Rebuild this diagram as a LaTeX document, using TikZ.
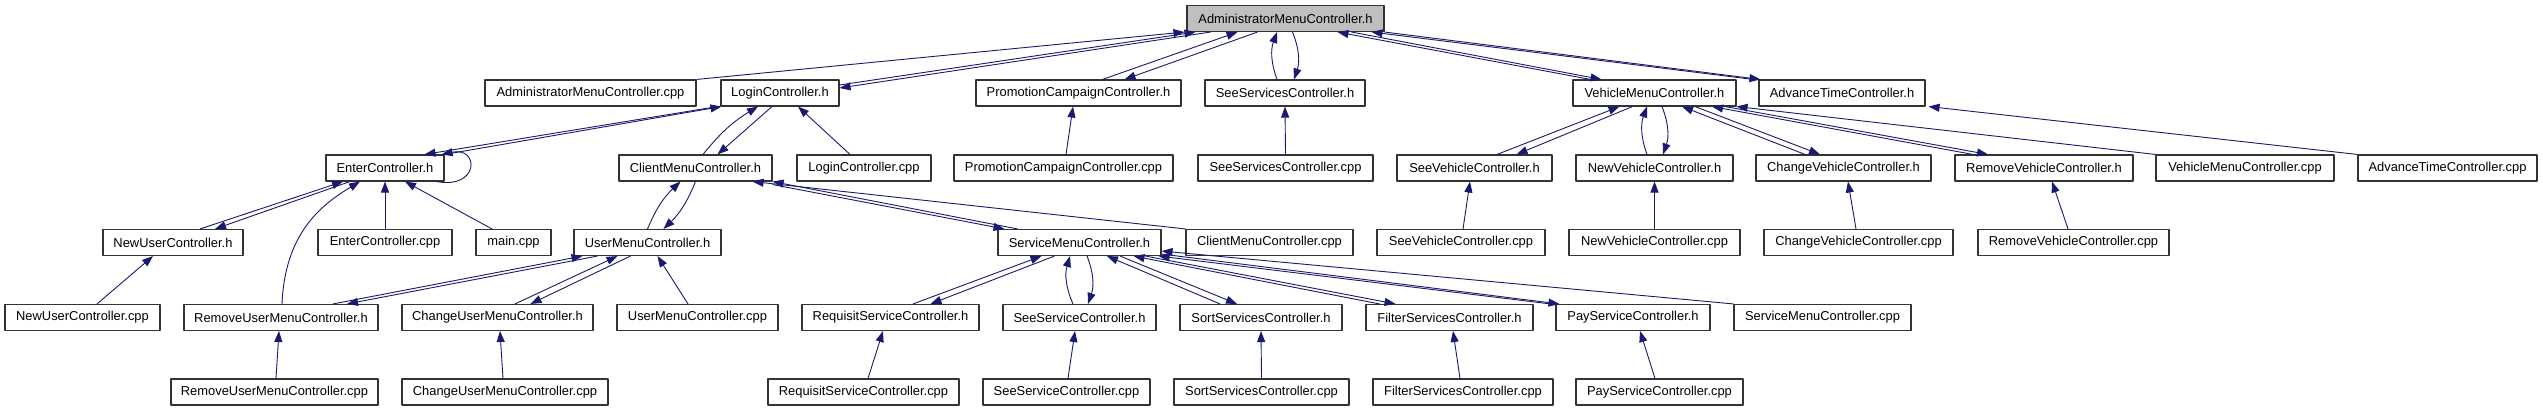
\documentclass[tikz,border=0pt]{standalone}
\usepackage{fontspec}
\setmainfont{Liberation Sans}
\usepackage{tikz}
\usetikzlibrary{arrows.meta}
\definecolor{edgeblue}{HTML}{191970}
\definecolor{boxline}{HTML}{333333}
\definecolor{curgray}{HTML}{BFBFBF}
\tikzset{
    every picture/.style={line join=round},
    filenode/.style={draw=boxline,fill=white,line width=1.1pt,
      minimum height=26pt,inner sep=0pt,font=\fontsize{12.9}{14}\selectfont},
    curfile/.style={filenode,fill=curgray},
    dep/.style={-{Triangle[length=11pt,width=8pt]},draw=edgeblue,line width=0.9pt}
}

\begin{document}
\begin{tikzpicture}[x=1pt,y=-1pt]
  \useasboundingbox[fill=white] (0,0) rectangle (2543,411);
  % row 0
  \node[curfile,minimum width=197pt] (admh) at (1285.5,18.5) {AdministratorMenuController.h};
  % row 1
  \node[filenode,minimum width=211pt] (admcpp) at (590.5,93) {AdministratorMenuController.cpp};
  \node[filenode,minimum width=118pt] (loginh) at (780,93) {LoginController.h};
  \node[filenode,minimum width=205pt] (promoh) at (1078.5,93) {PromotionCampaignController.h};
  \node[filenode,minimum width=160pt] (seesvsh) at (1285,93) {SeeServicesController.h};
  \node[filenode,minimum width=163pt] (vehh) at (1654.5,93) {VehicleMenuController.h};
  \node[filenode,minimum width=166pt] (advh) at (1842,93) {AdvanceTimeController.h};
  % row 2
  \node[filenode,minimum width=118pt] (enterh) at (385,168) {EnterController.h};
  \node[filenode,minimum width=153pt] (clienth) at (695.5,168) {ClientMenuController.h};
  \node[filenode,minimum width=134pt] (logincpp) at (864,168) {LoginController.cpp};
  \node[filenode,minimum width=219pt] (promocpp) at (1063.5,168) {PromotionCampaignController.cpp};
  \node[filenode,minimum width=175pt] (seesvscpp) at (1285.5,168) {SeeServicesController.cpp};
  \node[filenode,minimum width=155pt] (seevh) at (1474.5,168) {SeeVehicleController.h};
  \node[filenode,minimum width=157pt] (newvh) at (1654.5,168) {NewVehicleController.h};
  \node[filenode,minimum width=175pt] (chgvh) at (1843.5,168) {ChangeVehicleController.h};
  \node[filenode,minimum width=178pt] (remvh) at (2044,168) {RemoveVehicleController.h};
  \node[filenode,minimum width=178pt] (vehcpp) at (2245,168) {VehicleMenuController.cpp};
  \node[filenode,minimum width=179pt] (advcpp) at (2447.5,168) {AdvanceTimeController.cpp};
  % row 3
  \node[filenode,minimum width=140pt] (newuh) at (173,242.5) {NewUserController.h};
  \node[filenode,minimum width=134pt] (entercpp) at (385,242.5) {EnterController.cpp};
  \node[filenode,minimum width=75pt] (maincpp) at (513.5,242.5) {main.cpp};
  \node[filenode,minimum width=147pt] (userh) at (647.5,242.5) {UserMenuController.h};
  \node[filenode,minimum width=163pt] (svch) at (1079.5,242.5) {ServiceMenuController.h};
  \node[filenode,minimum width=167pt] (clientcpp) at (1269.5,242.5) {ClientMenuController.cpp};
  \node[filenode,minimum width=168pt] (seevcpp) at (1461,242.5) {SeeVehicleController.cpp};
  \node[filenode,minimum width=171pt] (newvcpp) at (1654.5,242.5) {NewVehicleController.cpp};
  \node[filenode,minimum width=189pt] (chgvcpp) at (1858.5,242.5) {ChangeVehicleController.cpp};
  \node[filenode,minimum width=191pt] (remvcpp) at (2073.5,242.5) {RemoveVehicleController.cpp};
  % row 4
  \node[filenode,minimum width=155pt] (newucpp) at (82.5,317.5) {NewUserController.cpp};
  \node[filenode,minimum width=194pt] (remuh) at (281,317.5) {RemoveUserMenuController.h};
  \node[filenode,minimum width=191pt] (chguh) at (497.5,317.5) {ChangeUserMenuController.h};
  \node[filenode,minimum width=161pt] (usercpp) at (697.5,317.5) {UserMenuController.cpp};
  \node[filenode,minimum width=177pt] (reqh) at (890.5,317.5) {RequisitServiceController.h};
  \node[filenode,minimum width=153pt] (seesh) at (1079.5,317.5) {SeeServiceController.h};
  \node[filenode,minimum width=162pt] (sorth) at (1261,317.5) {SortServicesController.h};
  \node[filenode,minimum width=167pt] (filth) at (1449.5,317.5) {FilterServicesController.h};
  \node[filenode,minimum width=154pt] (payh) at (1633,317.5) {PayServiceController.h};
  \node[filenode,minimum width=177pt] (svccpp) at (1822.5,317.5) {ServiceMenuController.cpp};
  % row 5
  \node[filenode,minimum width=207pt] (remucpp) at (274.5,392) {RemoveUserMenuController.cpp};
  \node[filenode,minimum width=206pt] (chgucpp) at (505,392) {ChangeUserMenuController.cpp};
  \node[filenode,minimum width=191pt] (reqcpp) at (863.5,392) {RequisitServiceController.cpp};
  \node[filenode,minimum width=167pt] (seescpp) at (1066.5,392) {SeeServiceController.cpp};
  \node[filenode,minimum width=175pt] (sortcpp) at (1261.5,392) {SortServicesController.cpp};
  \node[filenode,minimum width=180pt] (filtcpp) at (1463,392) {FilterServicesController.cpp};
  \node[filenode,minimum width=167pt] (paycpp) at (1659.5,392) {PayServiceController.cpp};

  % into AdministratorMenuController.h
  \draw[dep] (admcpp.north east) -- ([xshift=-2pt]admh.south west);
  \draw[dep] ([yshift=8pt]loginh.east) -- ([xshift=-90pt]admh.south);
  \draw[dep] ([xshift=-75pt]admh.south) -- ([yshift=5pt]loginh.east);
  \draw[dep] ([xshift=24pt]promoh.north) -- ([xshift=-48pt]admh.south);
  \draw[dep] ([xshift=-28pt]admh.south) -- ([xshift=46pt]promoh.north);
  \draw[dep] ([xshift=-8pt]seesvsh.north) to[bend left=20] ([xshift=-8.5pt]admh.south);
  \draw[dep] ([xshift=7pt]admh.south) to[bend left=20] ([xshift=9pt]seesvsh.north);
  \draw[dep] ([xshift=-64pt]vehh.north) -- ([xshift=52pt]admh.south);
  \draw[dep] ([xshift=66pt]admh.south) -- ([xshift=-53pt]vehh.north);
  \draw[dep] ([xshift=-5pt]advh.north west) -- ([xshift=86pt]admh.south);
  \draw[dep] (admh.south east) -- ([xshift=2pt]advh.north west);

  % row 1 headers
  \draw[dep] ([xshift=-3pt]loginh.south west) -- ([xshift=-20pt]enterh.north east);
  \draw[dep] (enterh.north east) -- ([xshift=1pt]loginh.south west);
  \draw[dep] ([xshift=-8pt]enterh.south east)
    .. controls ([xshift=35pt,yshift=-8pt]enterh.south east)
    and ([xshift=35pt,yshift=8pt]enterh.north east) .. ([xshift=-3pt]enterh.north east);
  \draw[dep] ([xshift=7.5pt]clienth.north) to[bend left=10] ([xshift=-22pt]loginh.south);
  \draw[dep] ([xshift=-8pt]loginh.south) -- ([xshift=22pt]clienth.north);
  \draw[dep] ([xshift=-14pt]logincpp.north) -- ([xshift=18pt]loginh.south);
  \draw[dep] ([xshift=2.5pt]promocpp.north) -- ([xshift=-5.5pt]promoh.south);
  \draw[dep] (seesvscpp.north) -- (seesvsh.south);
  \draw[dep] ([xshift=22.5pt]seevh.north) -- ([xshift=-35pt]vehh.south);
  \draw[dep] ([xshift=-22pt]vehh.south) -- ([xshift=42pt]seevh.north);
  \draw[dep] ([xshift=-7.5pt]newvh.north) to[bend left=20] ([xshift=-7.5pt]vehh.south);
  \draw[dep] ([xshift=7.5pt]vehh.south) to[bend left=20] ([xshift=8.5pt]newvh.north);
  \draw[dep] ([xshift=-38.5pt]chgvh.north) -- ([xshift=27.5pt]vehh.south);
  \draw[dep] ([xshift=40.5pt]vehh.south) -- ([xshift=-23.5pt]chgvh.north);
  \draw[dep] ([xshift=-71pt]remvh.north) -- ([xshift=57.5pt]vehh.south);
  \draw[dep] ([xshift=70.5pt]vehh.south) -- ([xshift=-56pt]remvh.north);
  \draw[dep] (vehcpp.north west) -- (vehh.south east);
  \draw[dep] (advcpp.north west) -- ([xshift=3pt]advh.south east);

  % row 2 headers
  \draw[dep] ([xshift=27pt]newuh.north) -- ([xshift=-42pt]enterh.south);
  \draw[dep] ([xshift=-35pt]enterh.south) -- ([xshift=42pt]newuh.north);
  \draw[dep] ([xshift=1pt]remuh.north)
    .. controls ([xshift=4pt,yshift=70pt]remuh.north)
    and ([xshift=-65pt,yshift=-24pt]enterh.south) .. ([xshift=-25pt]enterh.south);
  \draw[dep] (entercpp.north) -- (enterh.south);
  \draw[dep] ([xshift=-21.5pt]maincpp.north) -- ([xshift=20pt]enterh.south);
  \draw[dep] (userh.north) to[bend left=12] ([xshift=-15pt]clienth.south);
  \draw[dep] (clienth.south) to[bend left=12] ([xshift=16pt]userh.north);
  \draw[dep] ([xshift=-62pt]svch.north) -- (clienth.south east);
  \draw[dep] ([yshift=-3pt]clienth.south east) -- ([xshift=-75pt]svch.north);
  \draw[dep] (clientcpp.north west) -- ([xshift=-20pt]clienth.south east);
  \draw[dep] ([xshift=2pt]seevcpp.north) -- ([xshift=-4.5pt]seevh.south);
  \draw[dep] (newvcpp.north) -- (newvh.south);
  \draw[dep] ([xshift=-2.5pt]chgvcpp.north) -- ([xshift=4.5pt]chgvh.south);
  \draw[dep] ([xshift=-5.5pt]remvcpp.north) -- ([xshift=8pt]remvh.south);

  % row 3 headers
  \draw[dep] ([xshift=14.5pt]newucpp.north) -- ([xshift=-20pt]newuh.south);
  \draw[dep] ([xshift=52pt]remuh.north) -- ([xshift=-65pt]userh.south);
  \draw[dep] ([xshift=-50pt]userh.south) -- ([xshift=66pt]remuh.north);
  \draw[dep] ([xshift=17.5pt]chguh.north) -- ([xshift=-30pt]userh.south);
  \draw[dep] ([xshift=-17pt]userh.south) -- ([xshift=33pt]chguh.north);
  \draw[dep] ([xshift=-9.5pt]usercpp.north) -- ([xshift=10pt]userh.south);
  \draw[dep] ([xshift=22.5pt]reqh.north) -- ([xshift=-38pt]svch.south);
  \draw[dep] ([xshift=-25pt]svch.south) -- ([xshift=40pt]reqh.north);
  \draw[dep] ([xshift=-6.5pt]seesh.north) to[bend left=20] ([xshift=-9.5pt]svch.south);
  \draw[dep] ([xshift=7.5pt]svch.south) to[bend left=20] ([xshift=8.5pt]seesh.north);
  \draw[dep] ([xshift=-41pt]sorth.north) -- ([xshift=27.5pt]svch.south);
  \draw[dep] ([xshift=40.5pt]svch.south) -- ([xshift=-24pt]sorth.north);
  \draw[dep] ([xshift=-70pt]filth.north) -- ([xshift=54pt]svch.south);
  \draw[dep] ([xshift=66pt]svch.south) -- ([xshift=-54pt]filth.north);
  \draw[dep] ([xshift=-5pt]payh.north west) -- ([xshift=-3pt]svch.south east);
  \draw[dep] ([yshift=2pt]svch.south east) -- ([xshift=4pt]payh.north west);
  \draw[dep] (svccpp.north west) -- ([yshift=5pt]svch.south east);

  % row 4 headers
  \draw[dep] ([xshift=1.5pt]remucpp.north) -- ([xshift=-2pt]remuh.south);
  \draw[dep] ([xshift=-2pt]chgucpp.north) -- ([xshift=2.5pt]chguh.south);
  \draw[dep] ([xshift=4.5pt]reqcpp.north) -- ([xshift=-7.5pt]reqh.south);
  \draw[dep] ([xshift=1.5pt]seescpp.north) -- ([xshift=-4.5pt]seesh.south);
  \draw[dep] (sortcpp.north) -- (sorth.south);
  \draw[dep] ([xshift=-3pt]filtcpp.north) -- ([xshift=3.5pt]filth.south);
  \draw[dep] ([xshift=-4.5pt]paycpp.north) -- ([xshift=7pt]payh.south);
\end{tikzpicture}
\end{document}
